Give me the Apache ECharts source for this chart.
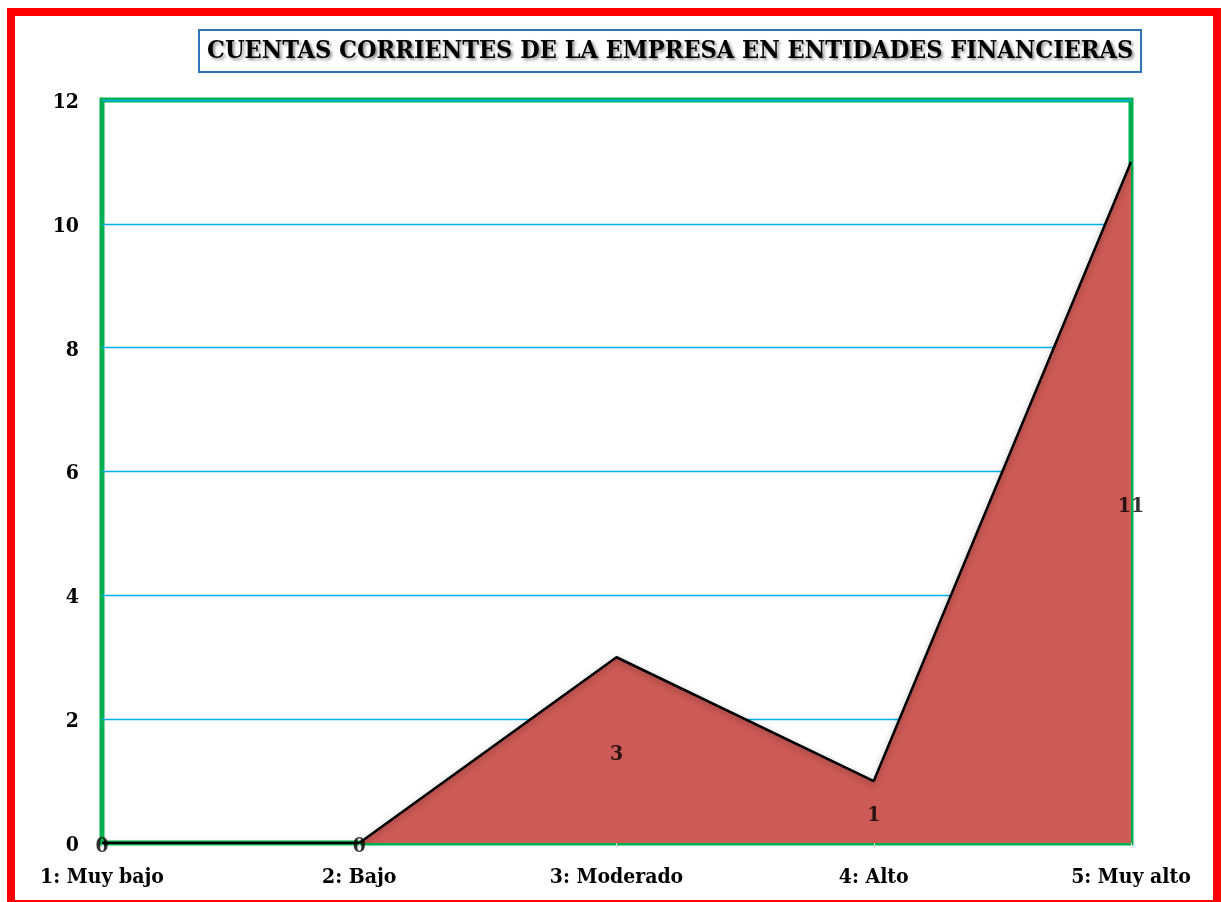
<!DOCTYPE html>
<html>
<head>
<meta charset="utf-8">
<script src="https://cdn.jsdelivr.net/npm/echarts@6/dist/echarts.min.js"></script>
<style>
  html, body { margin: 0; padding: 0; background: #fff; }
  #chart { width: 1222px; height: 902px; }
</style>
</head>
<body>
<div id="chart"></div>
<script>
const categories = ['1: Muy bajo', '2: Bajo', '3: Moderado', '4: Alto', '5: Muy alto']
const values = [0, 0, 3, 1, 11]
const titleText = 'CUENTAS CORRIENTES DE LA EMPRESA EN ENTIDADES FINANCIERAS'

const serif = '"DejaVu Serif Condensed", "DejaVu Serif", serif'

const chart = echarts.init(document.getElementById('chart'))

// labels sit halfway up the area, like the original
const labelPoints = values.map((v) => v / 2)

const option = {
  animation: false,
  title: {
    text: titleText,
    left: 199,
    top: 30,
    padding: [9, 8, 8, 8],
    borderColor: '#2E75B6',
    borderWidth: 2,
    textStyle: {
      fontFamily: serif,
      fontWeight: 'bold',
      fontSize: 25,
      color: '#000',
      textShadowColor: 'rgba(0,0,0,0.45)',
      textShadowBlur: 3,
      textShadowOffsetX: 2,
      textShadowOffsetY: 2
    }
  },
  graphic: [
    {
      type: 'rect',
      shape: { x: 11, y: 12, width: 1206, height: 892 },
      style: { fill: 'none', stroke: '#FF0000', lineWidth: 8 },
      z: 100
    }
  ],
  grid: {
    left: 102,
    right: 91,
    top: 100,
    bottom: 59,
    show: true,
    borderColor: '#00B050',
    borderWidth: 5
  },
  xAxis: {
    type: 'category',
    data: categories,
    boundaryGap: false,
    axisLine: { lineStyle: { color: '#00B050', width: 3 } },
    axisTick: { show: true, length: 5, lineStyle: { color: '#d9d9d9' } },
    axisLabel: {
      fontFamily: serif,
      fontWeight: 'bold',
      fontSize: 21,
      color: '#000',
      margin: 24
    }
  },
  yAxis: {
    type: 'value',
    min: 0,
    max: 12,
    interval: 2,
    axisLine: { show: false },
    axisTick: { show: false },
    splitLine: { lineStyle: { color: '#00B0F0', width: 1.3 } },
    axisLabel: {
      fontFamily: serif,
      fontWeight: 'bold',
      fontSize: 21,
      color: '#000',
      margin: 23,
      verticalAlign: 'top',
      padding: [-8, 0, 0, 0]
    }
  },
  series: [
    {
      type: 'line',
      data: values,
      symbol: 'none',
      lineStyle: {
        color: '#000',
        width: 2.5,
        shadowColor: 'rgba(0,0,0,0.35)',
        shadowBlur: 6,
        shadowOffsetY: 2
      },
      areaStyle: {
        color: '#CD5A56',
        opacity: 1
      },
      z: 3
    },
    {
      type: 'scatter',
      data: labelPoints,
      symbolSize: 0,
      silent: true,
      label: {
        show: true,
        position: 'inside',
        offset: [0, 4],
        formatter: (p) => values[p.dataIndex],
        fontFamily: serif,
        fontWeight: 'bold',
        fontSize: 21,
        color: '#000'
      },
      z: 5
    }
  ]
}

chart.setOption(option)
</script>
</body>
</html>
